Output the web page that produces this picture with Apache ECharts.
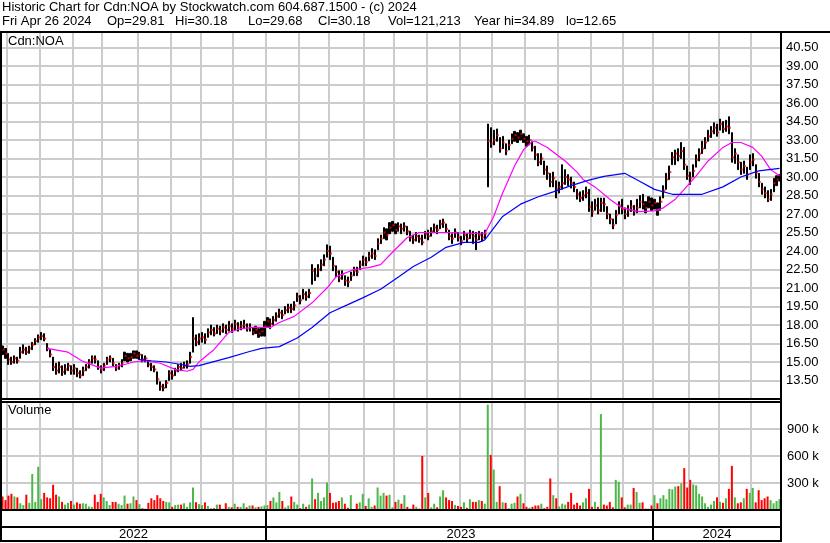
<!DOCTYPE html>
<html><head><meta charset="utf-8">
<script src="https://cdn.jsdelivr.net/npm/echarts/dist/echarts.min.js"></script>
<style>html,body{margin:0;padding:0;background:#fff}#c{width:830px;height:543px}</style>
</head><body><div id="c"></div>
<script>
// ---- data (one bar = two trading days) ----
const firstDay = '2022-04-27';
const lastDay = '2024-04-26';

const closeP = [
16.0,15.7,15.2,15.0,15.3,15.1,15.8,16.0,15.8,16.1,16.4,16.7,17.0,17.1,16.9,16.1,15.6,14.6,
14.3,14.6,14.2,14.4,14.7,14.3,14.5,14.1,13.9,14.3,
14.6,15.0,15.3,15.2,14.6,14.4,14.7,15.2,15.3,14.9,14.5,14.7,14.9,15.5,15.3,15.4,
15.7,15.5,15.6,15.2,15.3,14.8,14.6,14.4,13.6,
13.0,12.9,13.3,14.1,13.9,14.3,14.6,14.5,14.7,14.8,15.4,
16.9,16.6,16.9,17.0,16.8,17.4,17.6,17.3,17.7,17.5,17.8,17.6,17.9,17.7,18.1,17.8,17.9,18.0,17.7,17.8,17.4,17.6,17.3,17.5,
17.9,18.3,18.1,18.4,18.7,19.0,18.8,19.2,19.4,19.3,19.6,20.3,20.0,20.5,20.3,20.6,
22.4,22.0,22.5,22.9,23.3,24.0,23.8,22.8,22.3,21.8,22.1,21.6,21.5,22.0,22.4,22.3,
22.9,23.3,23.1,23.6,23.8,23.6,24.6,25.0,25.5,25.3,
25.9,26.1,25.7,26.0,25.8,26.0,25.6,25.1,24.9,25.2,25.0,24.7,25.4,25.2,25.6,25.9,25.7,26.2,26.3,25.8,25.2,25.0,25.5,25.1,24.8,25.3,25.0,25.4,25.2,24.9,25.3,
25.1,25.4,
32.9,32.7,33.0,33.4,32.3,32.8,32.1,32.6,33.1,33.4,33.2,33.5,33.1,32.9,33.0,
32.4,31.8,31.2,31.5,30.6,30.3,29.6,29.9,29.0,29.2,
29.5,30.0,29.8,29.5,29.2,28.6,28.3,28.5,28.7,27.6,27.2,
27.7,27.3,27.9,27.8,27.0,26.6,26.1,26.9,27.7,27.4,27.0,27.3,27.6,27.2,27.5,28.0,
27.8,27.5,28.0,27.7,27.9,27.3,
28.0,28.9,29.8,30.4,31.6,31.9,31.7,32.1,31.0,30.1,29.9,
30.5,31.4,31.9,32.3,32.8,33.3,33.7,34.0,33.6,34.3,33.9,34.1,34.0,
31.6,31.9,31.2,30.6,30.9,30.2,31.2,31.4,30.3,29.6,29.0,28.7,28.2,28.6,29.5,29.8,30.18
];
const highP = [
16.3,16.1,15.7,15.4,15.5,15.4,16.2,16.4,16.2,16.3,16.6,16.9,17.2,17.4,17.3,16.5,16.0,15.4,
14.9,15.0,14.7,14.8,14.9,14.7,14.8,14.5,14.3,14.6,
14.8,15.2,15.5,15.5,15.1,14.7,14.9,15.4,15.5,15.3,14.8,14.9,15.2,15.8,15.7,15.7,
15.9,15.9,15.8,15.6,15.5,15.1,14.9,14.7,14.2,
13.4,13.2,13.5,14.3,14.3,14.5,14.8,14.9,15.0,15.1,15.8,
18.6,17.2,17.3,17.4,17.3,17.7,18.0,17.8,18.0,17.9,18.1,18.0,18.3,18.1,18.4,18.2,18.3,18.4,18.1,18.1,17.8,17.9,17.7,17.8,
18.3,18.6,18.5,18.7,19.0,19.3,19.2,19.5,19.7,19.7,19.9,20.6,20.4,20.9,20.7,20.9,
22.9,22.6,22.9,23.3,23.7,24.5,24.4,23.5,22.8,22.4,22.4,22.0,21.9,22.3,22.7,22.7,
23.2,23.6,23.5,23.9,24.2,24.1,25.0,25.3,25.9,25.8,
26.3,26.4,26.2,26.3,26.2,26.3,26.0,25.6,25.3,25.5,25.3,25.3,25.6,25.7,25.9,26.2,26.1,26.5,26.6,26.2,25.7,25.4,25.8,25.5,25.2,25.6,25.4,25.7,25.6,25.5,25.6,
25.5,25.7,
34.3,34.0,33.8,33.9,33.2,33.3,32.7,33.0,33.5,33.7,33.6,33.8,33.5,33.3,33.4,
32.9,32.5,31.9,31.9,31.3,30.9,30.3,30.4,29.7,29.6,
31.0,30.6,30.2,30.0,29.6,29.0,28.8,28.9,29.2,29.0,28.0,
28.2,28.3,28.3,28.3,27.6,27.0,26.6,27.3,28.0,28.2,27.5,27.7,28.1,27.7,28.2,28.5,
28.6,28.0,28.4,28.3,28.2,27.9,
28.4,29.3,30.3,30.9,32.0,32.2,32.3,32.8,32.4,30.9,30.4,
31.0,31.8,32.3,32.9,33.2,33.8,34.1,34.4,34.3,34.7,34.5,34.6,34.89,
33.6,32.3,31.8,31.2,31.3,30.8,31.8,31.9,31.0,30.3,29.5,29.2,28.9,29.0,29.9,30.1,30.18
];
const lowP = [
15.6,15.3,14.8,14.8,14.9,14.9,15.3,15.7,15.6,15.7,16.0,16.4,16.6,16.8,16.7,15.9,15.4,14.3,
14.0,14.1,13.9,14.0,14.3,14.0,14.0,13.8,13.7,13.9,
14.3,14.5,14.9,14.9,14.4,14.1,14.3,14.8,15.0,14.7,14.3,14.4,14.6,15.1,15.0,15.1,
15.3,15.3,15.2,15.0,15.0,14.6,14.3,14.2,13.2,
12.7,12.65,12.9,13.5,13.6,13.9,14.2,14.3,14.5,14.5,14.9,
15.8,16.3,16.4,16.6,16.5,17.0,17.2,17.1,17.3,17.2,17.4,17.3,17.5,17.4,17.6,17.5,17.6,17.7,17.5,17.5,17.2,17.3,17.0,17.1,
17.1,17.8,17.7,18.0,18.3,18.6,18.5,18.9,19.0,19.0,19.2,19.9,19.7,20.1,20.0,20.2,
21.3,21.6,21.9,22.4,22.8,23.5,23.3,22.4,21.9,21.5,21.7,21.2,21.1,21.6,22.0,22.0,
22.5,22.8,22.8,23.2,23.4,23.3,24.1,24.6,25.0,24.9,
25.4,25.6,25.4,25.6,25.4,25.6,25.3,24.8,24.6,24.8,24.7,24.5,25.0,24.9,25.2,25.5,25.4,25.8,25.9,25.5,24.9,24.6,25.1,24.8,24.5,24.9,24.7,25.0,24.6,24.1,24.9,
24.8,25.0,
29.2,32.4,32.6,32.9,32.0,32.3,31.8,32.2,32.7,32.9,32.8,33.0,32.8,32.5,32.6,
32.1,31.4,30.9,31.0,30.2,29.8,29.2,29.2,28.3,28.7,
29.0,29.4,29.3,29.1,28.8,28.2,28.0,28.1,28.3,27.2,26.8,
27.3,27.0,27.2,27.2,26.6,26.2,25.8,26.2,27.0,27.0,26.6,26.8,27.2,26.9,27.1,27.5,
27.4,27.1,27.5,27.3,27.4,26.9,
27.3,28.3,29.0,29.8,31.0,31.0,31.3,31.5,30.6,29.8,29.4,
30.0,30.8,31.3,31.9,32.3,32.9,33.2,33.5,33.3,33.8,33.6,33.7,33.5,
31.2,31.1,30.6,30.2,30.3,29.8,30.6,30.9,29.9,29.2,28.6,28.3,28.0,28.1,28.8,29.3,29.68
];
// volume in thousands
const volK = [
150,110,160,180,150,140,75,55,170,80,
400,90,480,120,190,140,130,280,170,150,
90,60,80,100,60,85,70,75,70,40,
35,170,90,180,140,100,55,90,90,70,
55,160,70,75,150,110,65,20,15,80,
130,110,165,130,100,90,85,35,55,60,
60,75,35,85,250,85,65,55,85,45,
20,20,60,60,15,75,35,30,70,35,
35,75,30,50,50,30,35,40,50,55,
100,140,85,200,100,30,50,150,90,60,
20,70,35,60,350,120,190,100,140,305,
190,80,85,100,140,70,25,165,10,70,
85,180,45,130,35,50,250,160,190,160,
170,30,90,115,70,165,35,15,60,35,
15,600,140,190,30,70,30,150,220,140,
110,100,55,45,35,85,25,120,90,90,
110,100,70,1170,612,450,90,265,85,80,
20,70,80,150,180,75,35,25,35,50,
50,70,20,35,350,165,130,40,70,60,
90,190,60,80,50,85,130,235,35,90,
35,1066,60,50,90,30,335,315,140,30,
60,60,245,200,80,85,15,15,50,165,
75,130,165,120,235,230,260,265,295,465,
250,335,285,275,180,150,75,35,60,100,
140,90,80,130,235,490,140,75,85,130,
235,190,245,85,220,110,130,150,110,75,
100,121
];
// moving averages: [bar index, value]
const maFast = [[15,16.1],[22,15.8],[27,15.05],[33,14.5],[38,14.65],[41,14.8],[44,15.0],[48,15.1],[53,14.9],[58,14.4],[62,14.25],[64,14.4],[66,15.0],[71,16.0],[76,17.4],[80,17.7],[84,17.8],[90,17.8],[93,18.2],[98,18.7],[104,19.8],[109,21.0],[112,21.9],[118,22.5],[123,22.65],[127,22.9],[131,23.9],[136,25.1],[140,25.5],[150,25.5],[160,25.4],[162,25.4],[165,26.8],[168,28.7],[172,30.9],[175,32.2],[178,32.9],[179,32.9],[183,32.4],[189,31.3],[193,30.4],[195,29.8],[199,29.2],[204,28.2],[208,27.5],[214,27.2],[219,27.25],[222,27.5],[226,28.2],[229,29.0],[233,30.1],[237,31.3],[242,32.4],[245,32.8],[248,32.8],[252,32.4],[255,31.7],[258,30.6],[261,30.1]];
const maSlow = [[46,15.2],[50,15.1],[55,15.0],[60,14.8],[63,14.65],[66,14.7],[76,15.35],[83,15.85],[87,16.1],[93,16.25],[99,16.95],[104,17.8],[110,19.0],[116,19.65],[121,20.2],[127,20.9],[133,21.9],[138,22.75],[144,23.5],[149,24.3],[155,24.7],[160,24.7],[162,24.9],[168,26.8],[174,27.8],[180,28.4],[185,28.8],[191,29.3],[197,29.75],[202,30.05],[209,30.3],[214,29.65],[219,29.0],[225,28.6],[235,28.6],[242,29.2],[248,30.0],[254,30.5],[261,30.7]];

const titleLine1 = 'Historic Chart for Cdn:NOA by Stockwatch.com 604.687.1500 - (c) 2024';
const titleFields = ['Fri Apr 26 2024', 'Op=29.81', 'Hi=30.18', 'Lo=29.68', 'Cl=30.18', 'Vol=121,213', 'Year hi=34.89', 'lo=12.65'];
const symbolName = 'Cdn:NOA';
const volumeName = 'Volume';

// ---- build categories (every second weekday, ending on the last day) ----
function weekdays(a, b) {
  const out = []; const d = new Date(a + 'T00:00:00Z'); const e = new Date(b + 'T00:00:00Z');
  while (d <= e) { const w = d.getUTCDay(); if (w !== 0 && w !== 6) out.push(d.toISOString().slice(0, 10)); d.setUTCDate(d.getUTCDate() + 1); }
  return out;
}
const allDays = weekdays(firstDay, lastDay);
let dates = allDays.filter((_, k) => (allDays.length - 1 - k) % 2 === 0);
dates = dates.slice(dates.length - closeP.length);

const monthStart = (i) => i > 0 && i < dates.length && dates[i].slice(5, 7) !== dates[i - 1].slice(5, 7);
const yearStart = (i) => i > 0 && i < dates.length && dates[i].slice(0, 4) !== dates[i - 1].slice(0, 4);
const yearMid = {};
(() => { const f = {}, l = {}; dates.forEach((d, i) => { const y = d.slice(0, 4); if (f[y] === undefined) f[y] = i; l[y] = i; });
  Object.keys(f).forEach(y => { yearMid[Math.round((f[y] + l[y]) / 2)] = y; }); })();

const FONT = '"Liberation Sans", Arial, sans-serif';
const GRID = '#cccccc';
const L = 1, R = 49;

const chart = echarts.init(document.getElementById('c'), null, { renderer: 'canvas' });

const volColors = volK.map((v, i) => {
  if (i === 0) return '#ff0000';
  if (closeP[i] > closeP[i - 1]) return '#4cb848';
  if (closeP[i] < closeP[i - 1]) return '#ff0000';
  return '#a0a0a0';
});

const frame = (x1, y1, x2, y2) => ({ type: 'line', z: 100, silent: true, shape: { x1, y1, x2, y2 }, style: { stroke: '#000', lineWidth: 2 } });
// header line 2 field positions (px from left)
const fieldX = [2, 107, 175, 248, 318, 388, 474, 566];

chart.setOption({
  animation: false,
  backgroundColor: '#fff',
  textStyle: { fontFamily: FONT },
  grid: [
    { left: L, right: R, top: 32, height: 367, outerBoundsMode: 'none' },
    { left: L, right: R, top: 402, height: 108, outerBoundsMode: 'none' },
    { left: L, right: R, top: 510, height: 17, outerBoundsMode: 'none' },
    { left: L, right: R, top: 527, height: 14, outerBoundsMode: 'none' }
  ],
  xAxis: [0, 1, 2, 3].map(g => ({
    type: 'category', gridIndex: g, data: dates, boundaryGap: true,
    position: g === 3 ? 'top' : 'bottom',
    axisLine: { show: false }, axisTick: { show: false },
    axisLabel: g === 3 ? {
      show: true, inside: true, margin: 1, fontSize: 13, color: '#000', fontFamily: FONT,
      interval: (i) => yearMid[i] !== undefined,
      formatter: (v) => v.slice(0, 4)
    } : { show: false },
    splitLine: {
      show: true,
      interval: g < 2 ? monthStart : yearStart,
      lineStyle: g < 2 ? { color: GRID, width: 2 } : { color: '#000', width: 2 }
    }
  })),
  yAxis: [
    { type: 'value', gridIndex: 0, position: 'right', min: 12, max: 41.76, interval: 1.5,
      axisLine: { show: false }, axisTick: { show: false },
      axisLabel: { margin: 5, fontSize: 13, color: '#000', fontFamily: FONT, showMinLabel: false, showMaxLabel: false,
        formatter: (v) => (v < 13 || v > 41) ? '' : v.toFixed(2) },
      splitLine: { show: true, showMinLine: false, showMaxLine: false, lineStyle: { color: GRID, width: 2 } } },
    { type: 'value', gridIndex: 1, position: 'right', min: 0, max: 1200, interval: 300,
      axisLine: { show: false }, axisTick: { show: false },
      axisLabel: { margin: 6, fontSize: 13, color: '#000', fontFamily: FONT,
        formatter: (v) => (v === 0 || v >= 1200) ? '' : v + ' k' },
      splitLine: { show: true, showMinLine: false, showMaxLine: false, lineStyle: { color: GRID, width: 2 } } },
    { type: 'value', gridIndex: 2, show: false },
    { type: 'value', gridIndex: 3, show: false }
  ],
  series: [
    { type: 'candlestick', xAxisIndex: 0, yAxisIndex: 0, silent: true, barWidth: 1.6,
      data: highP.map((h, i) => [lowP[i], h, lowP[i], h]),
      itemStyle: { color: '#000', color0: '#000', borderColor: '#000', borderColor0: '#000', borderWidth: 1 } },
    { type: 'scatter', xAxisIndex: 0, yAxisIndex: 0, silent: true, data: closeP,
      symbol: 'rect', symbolSize: [2, 2], symbolOffset: [1, 0], itemStyle: { color: '#ff0000' }, z: 3 },
    { type: 'line', xAxisIndex: 0, yAxisIndex: 0, silent: true, data: maFast, showSymbol: false,
      lineStyle: { color: '#ff00ff', width: 1.2 }, z: 4 },
    { type: 'line', xAxisIndex: 0, yAxisIndex: 0, silent: true, data: maSlow, showSymbol: false,
      lineStyle: { color: '#0000ff', width: 1.2 }, z: 4 },
    { type: 'bar', xAxisIndex: 1, yAxisIndex: 1, silent: true, barWidth: 2,
      data: volK.map((v, i) => ({ value: v, itemStyle: { color: volColors[i] } })) }
  ],
  graphic: [
    { type: 'text', left: 2, top: 1, silent: true, style: { text: titleLine1, font: '13px ' + FONT, fill: '#000' } },
    ...titleFields.map((t, k) => ({ type: 'text', left: fieldX[k], top: 15, silent: true, style: { text: t, font: '13px ' + FONT, fill: '#000' } })),
    { type: 'text', left: 8, top: 35, silent: true, z: 100, style: { text: symbolName, font: '13px ' + FONT, fill: '#000' } },
    { type: 'text', left: 8, top: 404, silent: true, z: 100, style: { text: volumeName, font: '13px ' + FONT, fill: '#000' } },
    frame(0, 32, 830, 32),
    frame(1, 32, 1, 542),
    frame(781, 32, 781, 542),
    frame(1, 399, 781, 399),
    frame(1, 402, 781, 402),
    frame(1, 510, 781, 510),
    frame(1, 527, 781, 527),
    frame(1, 541, 781, 541)
  ]
});
</script>
</body></html>
